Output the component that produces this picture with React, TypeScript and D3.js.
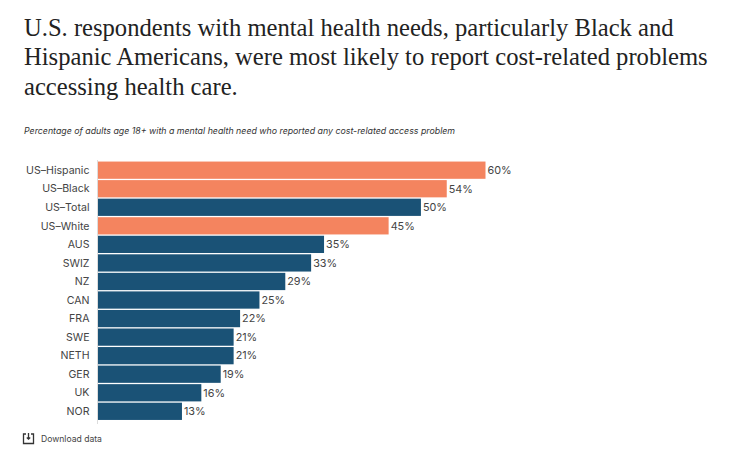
import { useEffect, useRef } from "react";
import * as d3 from "d3";

const titleLines = [
  "U.S. respondents with mental health needs, particularly Black and",
  "Hispanic Americans, were most likely to report cost-related problems",
  "accessing health care.",
];
const subtitle =
  "Percentage of adults age 18+ with a mental health need who reported any cost-related access problem";

const categories = [
  "US\u2013Hispanic",
  "US\u2013Black",
  "US\u2013Total",
  "US\u2013White",
  "AUS",
  "SWIZ",
  "NZ",
  "CAN",
  "FRA",
  "SWE",
  "NETH",
  "GER",
  "UK",
  "NOR",
];
const values = [60, 54, 50, 45, 35, 33, 29, 25, 22, 21, 21, 19, 16, 13];
const highlighted = ["US\u2013Hispanic", "US\u2013Black", "US\u2013White"];

const width = 750;
const height = 458;
const orange = "#f4845f";
const blue = "#1a5276";

const App = () => {
  const svgRef = useRef<SVGSVGElement | null>(null);

  useEffect(() => {
    if (!svgRef.current) return;
    const svg = d3.select(svgRef.current);
    svg.selectAll("*").remove();

    const x = d3.scaleLinear().domain([0, 60]).range([98, 485.5]);
    const y = d3.scaleBand().domain(categories).range([161, 420.5]).paddingInner(0.07).paddingOuter(0.03);

    svg
      .append("g")
      .selectAll("text")
      .data(titleLines)
      .enter()
      .append("text")
      .attr("x", 24)
      .attr("y", (d, i) => 35.5 + i * 29.7)
      .attr("font-family", "'Liberation Serif', serif")
      .attr("font-size", 24.6)
      .attr("fill", "#222")
      .text((d) => d);

    svg
      .append("text")
      .attr("x", 24)
      .attr("y", 134)
      .attr("font-family", "Inter, sans-serif")
      .attr("font-style", "italic")
      .attr("font-size", 8.8)
      .attr("fill", "#333")
      .text(subtitle);

    svg
      .append("line")
      .attr("x1", 97.5)
      .attr("x2", 97.5)
      .attr("y1", 160)
      .attr("y2", 424)
      .attr("stroke", "#ddd")
      .attr("stroke-width", 1);

    const rows = svg
      .append("g")
      .selectAll("g")
      .data(categories)
      .enter()
      .append("g");

    rows
      .append("rect")
      .attr("x", x(0))
      .attr("y", (d) => y(d)!)
      .attr("width", (d, i) => x(values[i]) - x(0))
      .attr("height", y.bandwidth())
      .attr("fill", (d) => (highlighted.includes(d) ? orange : blue));

    rows
      .append("text")
      .attr("x", 89.5)
      .attr("y", (d) => y(d)! + y.bandwidth() / 2)
      .attr("dy", "0.35em")
      .attr("text-anchor", "end")
      .attr("font-family", "Inter, sans-serif")
      .attr("font-size", 10.6)
      .attr("fill", "#444")
      .text((d) => d);

    rows
      .append("text")
      .attr("x", (d, i) => x(values[i]) + 2)
      .attr("y", (d) => y(d)! + y.bandwidth() / 2)
      .attr("dy", "0.35em")
      .attr("font-family", "Inter, sans-serif")
      .attr("font-size", 10.8)
      .attr("fill", "#444")
      .text((d, i) => `${values[i]}%`);

    // download icon
    const icon = svg.append("g").attr("fill", "none").attr("stroke", "#333").attr("stroke-width", 1.3);
    icon.append("path").attr("d", "M26 434 h-2.5 v9.5 h10 v-9.5 h-2.5");
    icon.append("path").attr("d", "M28.5 433 v6 M26.8 437.5 l1.7 1.7 l1.7 -1.7");

    svg
      .append("text")
      .attr("x", 41)
      .attr("y", 442)
      .attr("font-family", "Inter, sans-serif")
      .attr("font-size", 8.6)
      .attr("fill", "#444")
      .text("Download data");
  }, []);

  return (
    <svg
      ref={svgRef}
      width={width}
      height={height}
      style={{ position: "absolute", left: 0, top: 0, background: "#fff" }}
    ></svg>
  );
};

export default App;
